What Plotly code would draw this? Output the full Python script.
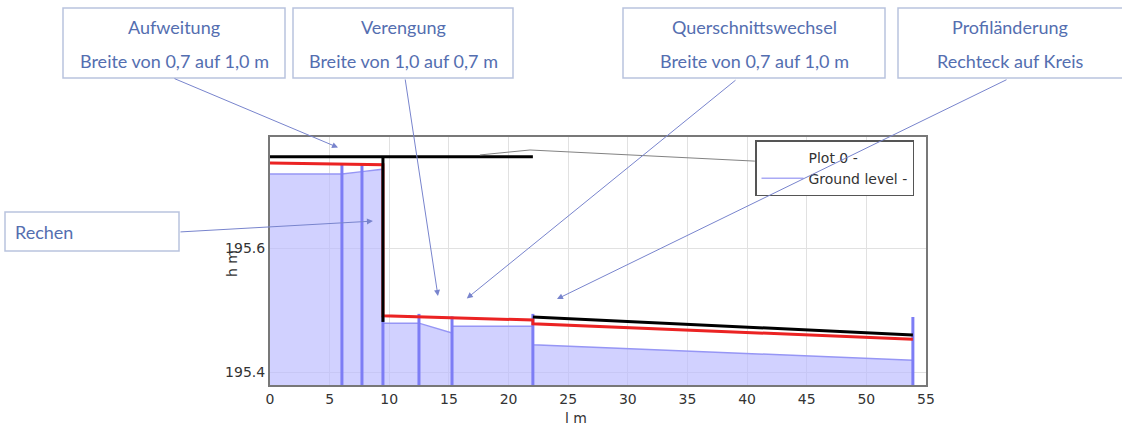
import plotly.graph_objects as go

# ---------------- data ----------------
ground_x = [0, 6.03, 7.71, 9.47, 9.47, 12.49, 15.26, 15.26, 22.04, 22.04, 53.9]
ground_y = [195.720, 195.720, 195.724, 195.728, 195.479, 195.479, 195.463, 195.474, 195.474, 195.444, 195.419]

node_x = [6.03, 7.71, 9.47, 12.49, 15.26, 22.04, 53.9]
node_top = [195.737, 195.737, 195.490, 195.494, 195.490, 195.494, 195.489]

water_x = [0, 9.47, 9.47, 22.04, 22.04, 53.9]
water_y = [195.738, 195.735, 195.491, 195.484, 195.478, 195.453]

black_x = [0, 22.04, None, 9.47, 9.47, None, 22.04, 53.9]
black_y = [195.748, 195.748, None, 195.748, 195.481, None, 195.489, 195.460]

grey_x = [17.6, 21.8, 40.65]
grey_y = [195.751, 195.759, 195.741]

x_ticks = [0, 5, 10, 15, 20, 25, 30, 35, 40, 45, 50, 55]
y_ticks = [195.4, 195.6]
x_range = [0, 55]
y_range = [195.379, 195.780]

legend_names = ["Plot 0 -", "Ground level -"]

callouts = [
    ("Aufweitung", "Breite von 0,7 auf 1,0 m"),
    ("Verengung", "Breite von 1,0 auf 0,7 m"),
    ("Querschnittswechsel", "Breite von 0,7 auf 1,0 m"),
    ("Profiländerung", "Rechteck auf Kreis"),
]
callout_targets_x = [5.7, 14.08, 16.5, 24.06]
callout_targets_y = [195.763, 195.523, 195.519, 195.518]
rechen_label = "Rechen"
rechen_target = (8.63, 195.644)

# ---------------- layout geometry (pixels) ----------------
W, H = 1122, 428
L, R, T, B = 270, 926, 137, 385


def px(xp):
    return (xp - L) / (R - L)


def py(yp):
    return (B - yp) / (B - T)


fig = go.Figure()

# ground fill
fig.add_trace(go.Scatter(x=ground_x, y=ground_y, mode="lines", fill="tozeroy",
                         fillcolor="rgba(185,185,255,0.65)",
                         line=dict(color="rgb(150,150,245)", width=1.5),
                         showlegend=False, hoverinfo="skip"))

# node verticals
nx, ny = [], []
for x, t in zip(node_x, node_top):
    nx += [x, x, None]
    ny += [y_range[0], t, None]
fig.add_trace(go.Scatter(x=nx, y=ny, mode="lines",
                         line=dict(color="rgb(125,125,245)", width=3),
                         showlegend=False, hoverinfo="skip"))

# water level
fig.add_trace(go.Scatter(x=water_x, y=water_y, mode="lines",
                         line=dict(color="rgb(235,35,35)", width=3),
                         showlegend=False))
# black line
fig.add_trace(go.Scatter(x=black_x, y=black_y, mode="lines",
                         line=dict(color="black", width=3),
                         showlegend=False))
# grey thin line
fig.add_trace(go.Scatter(x=grey_x, y=grey_y, mode="lines",
                         line=dict(color="rgb(130,130,130)", width=1),
                         showlegend=False))

# legend entries
fig.add_trace(go.Scatter(x=[None], y=[None], mode="lines", name=legend_names[0],
                         line=dict(color="rgba(0,0,0,0)", width=1)))
fig.add_trace(go.Scatter(x=[None], y=[None], mode="lines", name=legend_names[1],
                         line=dict(color="rgb(170,170,245)", width=1.5)))

shapes = []
annotations = []
txt_color = "rgb(84,110,176)"
box_color = "rgb(185,195,222)"
font_box = dict(family="Lato, Open Sans, sans-serif", size=18, color=txt_color)
chart_font = "'DejaVu Sans', 'Liberation Sans', Arial, sans-serif"

boxes = [(63, 285), (293, 513), (623, 885), (898, 1125)]
tails = [(173, 78), (405, 78), (737, 79), (1008, 79)]
for (l1, l2), (bx0, bx1), (tx, ty), hx, hy in zip(callouts, boxes, tails,
                                                  callout_targets_x, callout_targets_y):
    shapes.append(dict(type="rect", xref="paper", yref="paper",
                       x0=px(bx0), x1=px(bx1), y0=py(78), y1=py(8),
                       line=dict(color=box_color, width=1.5), fillcolor="white", layer="above"))
    cx = (bx0 + bx1) / 2 if bx1 < 1120 else 1010
    annotations.append(dict(x=px(cx), y=py(27), xref="paper", yref="paper", text=l1,
                            showarrow=False, font=font_box, xanchor="center", yanchor="middle"))
    annotations.append(dict(x=px(cx), y=py(61), xref="paper", yref="paper", text=l2,
                            showarrow=False, font=font_box, xanchor="center", yanchor="middle"))

# Rechen box
shapes.append(dict(type="rect", xref="paper", yref="paper",
                   x0=px(5), x1=px(179), y0=py(251), y1=py(212),
                   line=dict(color=box_color, width=1.5), fillcolor="white", layer="above"))
annotations.append(dict(x=px(13), y=py(232), xref="paper", yref="paper", text=rechen_label,
                        showarrow=False, font=font_box, xanchor="left", yanchor="middle"))
tails.append((179, 232))

# arrows
targets = list(zip(callout_targets_x, callout_targets_y)) + [rechen_target]
for (tx, ty), (hx, hy) in zip(tails, targets):
    hpx = L + (hx - x_range[0]) / (x_range[1] - x_range[0]) * (R - L)
    hpy = B - (hy - y_range[0]) / (y_range[1] - y_range[0]) * (B - T)
    annotations.append(dict(x=hx, y=hy, xref="x", yref="y", text="", showarrow=True,
                            ax=tx - hpx, ay=ty - hpy, axref="pixel", ayref="pixel",
                            arrowhead=2, arrowsize=1.2, arrowwidth=1,
                            arrowcolor="rgb(120,132,205)"))

# axis titles
annotations.append(dict(x=px(576), y=py(418), xref="paper", yref="paper", text="l m",
                        xanchor="center", yanchor="middle",
                        showarrow=False, font=dict(family=chart_font, size=14, color="#333")))
annotations.append(dict(x=px(232), y=py(264), xref="paper", yref="paper", text="h m",
                        xanchor="center", yanchor="middle",
                        textangle=-90, showarrow=False,
                        font=dict(family=chart_font, size=14, color="#333")))

fig.update_layout(
    width=W, height=H,
    margin=dict(l=L, r=W - R, t=T, b=H - B, pad=0),
    paper_bgcolor="white", plot_bgcolor="white",
    font=dict(family=chart_font, size=14, color="#333"),
    shapes=shapes, annotations=annotations,
    legend=dict(x=px(755), y=py(140), xanchor="left", yanchor="top",
                bgcolor="white", bordercolor="#555", borderwidth=1.5,
                itemwidth=42,
                font=dict(family=chart_font, size=14, color="#333"), tracegroupgap=0),
)
fig.update_xaxes(range=x_range, tickvals=x_ticks, showgrid=True, gridcolor="rgb(225,225,225)",
                 gridwidth=1, showline=True, linecolor="rgb(120,120,120)", linewidth=2,
                 mirror=True, zeroline=False, ticks="", tickfont=dict(size=14))
fig.update_yaxes(range=y_range, tickvals=y_ticks, showgrid=True, gridcolor="rgb(225,225,225)",
                 gridwidth=1, showline=True, linecolor="rgb(120,120,120)", linewidth=2,
                 mirror=True, zeroline=False, ticks="", tickfont=dict(size=14))

fig.write_html("out.html", config={"displayModeBar": False},
               post_script="document.body.style.margin='0';")
